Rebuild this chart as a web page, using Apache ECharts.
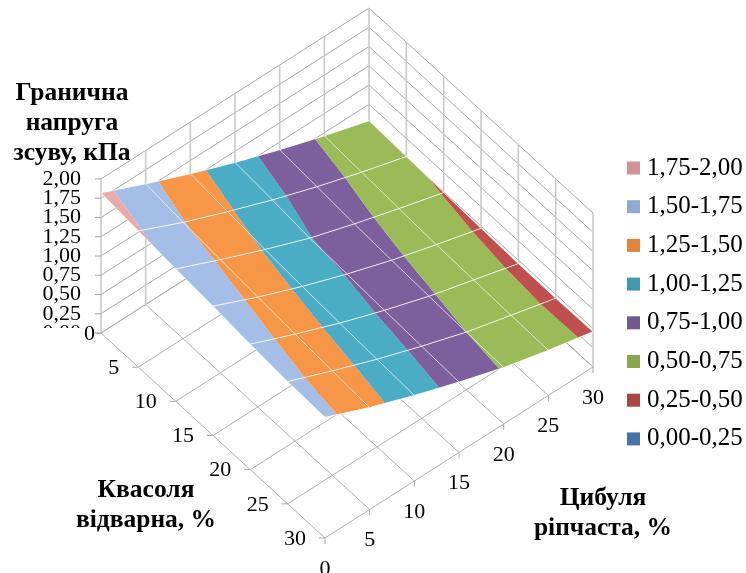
<!DOCTYPE html>
<html>
<head>
<meta charset="utf-8">
<style>html,body{margin:0;padding:0;background:#fff}#chart{width:746px;height:573px}</style>
<script src="https://cdn.jsdelivr.net/npm/echarts@6/dist/echarts.min.js"></script>
</head>
<body>
<div id="chart"></div>
<script>
// Shear stress limit over the two recipe components, in %.
const kvasolya = [0, 5, 10, 15, 20, 25, 30];
const cybulya = [0, 5, 10, 15, 20, 25, 30];
const stressTicks = [0, 0.25, 0.5, 0.75, 1, 1.25, 1.5, 1.75, 2];
const stressTickLabels = ['0,00', '0,25', '0,50', '0,75', '1,00', '1,25', '1,50', '1,75', '2,00'];

// One row per kvasolya level, one value per cybulya level.
const stressAtK0 = [1.82, 1.568, 1.327, 1.105, 0.90, 0.71, 0.536];
const stressAtK5 = [1.77, 1.51, 1.279, 1.062, 0.863, 0.682, 0.515];
const stressAtK10 = [1.72, 1.47, 1.232, 1.009, 0.824, 0.653, 0.49];
const stressAtK15 = [1.68, 1.427, 1.196, 0.987, 0.796, 0.628, 0.47];
const stressAtK20 = [1.63, 1.39, 1.163, 0.959, 0.772, 0.614, 0.455];
const stressAtK25 = [1.588, 1.357, 1.138, 0.937, 0.75, 0.598, 0.45];
const stressAtK30 = [1.567, 1.324, 1.111, 0.914, 0.733, 0.587, 0.458];
const stress = [stressAtK0, stressAtK5, stressAtK10, stressAtK15, stressAtK20, stressAtK25, stressAtK30];

const bandNames = ['1,75-2,00', '1,50-1,75', '1,25-1,50', '1,00-1,25', '0,75-1,00', '0,50-0,75', '0,25-0,50', '0,00-0,25'];
const bandLow = [1.75, 1.5, 1.25, 1, 0.75, 0.5, 0.25, 0];
const bandHigh = [2, 1.75, 1.5, 1.25, 1, 0.75, 0.5, 0.25];
const bandFill = ['#EBA9A8', '#A5BEE8', '#F79646', '#4BACC6', '#7E5F9E', '#9BBB59', '#C0504D', '#4F81BD'];
const bandSwatch = ['#D19392', '#94A9D2', '#E0853B', '#4198AF', '#71588F', '#89A54E', '#AA4643', '#4572A7'];

const FONT = '"Liberation Serif","Times New Roman",serif';

// Oblique projection of (kvasolya, cybulya, stress) onto the plot plane.
const ORIGIN = [101, 333];
const K_STEP = [224 / 30, 205 / 30];
const C_STEP = [268 / 30, -171 / 30];
const Z_STEP = 77;
function project(k, c, z) {
  return [
    ORIGIN[0] + k * K_STEP[0] + c * C_STEP[0],
    ORIGIN[1] + k * K_STEP[1] + c * C_STEP[1] - z * Z_STEP
  ];
}

const K_MAX = kvasolya[kvasolya.length - 1];
const C_MAX = cybulya[cybulya.length - 1];
const Z_MAX = stressTicks[stressTicks.length - 1];

// Frame segments as pairs of 3D points.
const wallRules = [];
const wallPosts = [];
const floorRules = [];
stressTicks.forEach(z => {
  wallRules.push([[0, 0, z], [0, C_MAX, z]]);
  wallRules.push([[0, C_MAX, z], [K_MAX, C_MAX, z]]);
});
cybulya.forEach(c => {
  wallPosts.push([[0, c, 0], [0, c, Z_MAX]]);
  floorRules.push([[0, c, 0], [K_MAX, c, 0]]);
});
kvasolya.forEach(k => {
  if (k > 0) wallPosts.push([[k, C_MAX, 0], [k, C_MAX, Z_MAX]]);
  floorRules.push([[k, 0, 0], [k, C_MAX, 0]]);
});

function segmentSeries(name, segments, color, width) {
  return {
    type: 'custom', name, coordinateSystem: 'cartesian2d', silent: true, clip: false, z: 1,
    data: segments.map((s, i) => [i]),
    renderItem(params, api) {
      const s = segments[api.value(0)];
      const a = api.coord(project.apply(null, s[0]));
      const b = api.coord(project.apply(null, s[1]));
      return { type: 'line', shape: { x1: a[0], y1: a[1], x2: b[0], y2: b[1] }, style: { stroke: color, lineWidth: width, fill: null } };
    }
  };
}

// Short outward tick marks.
const TICK = 6;
const tickMarks = [];
stressTicks.forEach(z => tickMarks.push({ at: [0, 0, z], dx: -TICK, dy: 0 }));
kvasolya.forEach(k => tickMarks.push({ at: [k, 0, 0], dx: -TICK, dy: 0 }));
cybulya.forEach(c => tickMarks.push({ at: [K_MAX, c, 0], dx: 0, dy: TICK }));

// Keep the part of a cell polygon on one side of a stress level.
function clipAtLevel(poly, level, keepAbove) {
  const out = [];
  const inside = p => keepAbove ? p[2] >= level : p[2] <= level;
  for (let i = 0; i < poly.length; i++) {
    const a = poly[i], b = poly[(i + 1) % poly.length];
    if (inside(a)) out.push(a);
    if (inside(a) !== inside(b)) {
      const t = (level - a[2]) / (b[2] - a[2]);
      out.push([a[0] + t * (b[0] - a[0]), a[1] + t * (b[1] - a[1]), level]);
    }
  }
  return out;
}

const cells = [];
for (let i = 0; i < kvasolya.length - 1; i++) {
  for (let j = 0; j < cybulya.length - 1; j++) cells.push([i, j]);
}

const bandSeries = bandNames.map((name, b) => ({
  type: 'custom', name, coordinateSystem: 'cartesian2d', silent: true, clip: false, z: 3,
  itemStyle: { color: bandSwatch[b] },
  data: cells,
  renderItem(params, api) {
    const i = api.value(0), j = api.value(1);
    const corner = (n, m) => [kvasolya[n], cybulya[m], stress[n][m]];
    let poly = [corner(i, j), corner(i + 1, j), corner(i + 1, j + 1), corner(i, j + 1)];
    poly = clipAtLevel(poly, bandLow[b], true);
    if (poly.length) poly = clipAtLevel(poly, bandHigh[b], false);
    if (poly.length < 3) return null;
    return {
      type: 'polygon',
      shape: { points: poly.map(p => api.coord(project(p[0], p[1], p[2]))) },
      style: { fill: bandFill[b], stroke: null }
    };
  }
}));

// White mesh lines lying on the surface; the kvasolya rows read stronger.
const meshLines = [];
kvasolya.forEach((k, i) => meshLines.push({ alpha: 0.82, pts: cybulya.map((c, j) => [k, c, stress[i][j]]) }));
cybulya.forEach((c, j) => meshLines.push({ alpha: 0.55, pts: kvasolya.map((k, i) => [k, c, stress[i][j]]) }));

const meshSeries = {
  type: 'custom', name: 'mesh', coordinateSystem: 'cartesian2d', silent: true, clip: false, z: 4,
  data: meshLines.map((l, i) => [i]),
  renderItem(params, api) {
    const line = meshLines[api.value(0)];
    return {
      type: 'polyline',
      shape: { points: line.pts.map(p => api.coord(project(p[0], p[1], p[2]))) },
      style: { stroke: 'rgba(255,255,255,' + line.alpha + ')', lineWidth: 1, fill: null }
    };
  }
};

const tickSeries = {
  type: 'custom', name: 'ticks', coordinateSystem: 'cartesian2d', silent: true, clip: false, z: 2,
  data: tickMarks.map((t, i) => [i]),
  renderItem(params, api) {
    const t = tickMarks[api.value(0)];
    const a = api.coord(project(t.at[0], t.at[1], t.at[2]));
    return { type: 'line', shape: { x1: a[0], y1: a[1], x2: a[0] + t.dx, y2: a[1] + t.dy }, style: { stroke: '#A6A6A6', lineWidth: 1, fill: null } };
  }
};

// Tick labels sit at fixed offsets from their axis points.
const tickText = [];
stressTicks.forEach((z, i) => tickText.push({ text: stressTickLabels[i], at: [0, 0, z], dx: -20, dy: 0, align: 'right', cut: z === 0 ? -7 : null }));
kvasolya.forEach(k => tickText.push({ text: String(k), at: [k, 0, 0], dx: k === 0 ? -6 : -19, dy: 1, align: 'right' }));
cybulya.forEach(c => tickText.push({ text: String(c), at: [K_MAX, c, 0], dx: 0, dy: 31, align: 'center' }));

const labelSeries = {
  type: 'custom', name: 'labels', coordinateSystem: 'cartesian2d', silent: true, clip: false, z: 5,
  data: tickText.map((t, i) => [i]),
  renderItem(params, api) {
    const t = tickText[api.value(0)];
    const a = api.coord(project(t.at[0], t.at[1], t.at[2]));
    const x = a[0] + t.dx, y = a[1] + t.dy;
    const el = {
      type: 'text',
      style: { x, y, text: t.text, align: t.align, verticalAlign: 'middle', fontFamily: FONT, fontSize: 22, fill: '#000' }
    };
    // The lowest stress label only shows its upper edge under the 0,25 row.
    if (t.cut !== null && t.cut !== undefined) {
      el.clipPath = { type: 'rect', shape: { x: x - 60, y: y - 30, width: 70, height: 30 + t.cut + 2 } };
    }
    return el;
  }
};

const axisTitleStyle = { fontFamily: FONT, fontWeight: 'bold', fontSize: 25.5, lineHeight: 30, color: '#000' };

const chart = echarts.init(document.getElementById('chart'), null, { renderer: 'canvas' });
chart.setOption({
  animation: false,
  backgroundColor: '#fff',
  grid: { left: 0, right: 0, top: 0, bottom: 0 },
  xAxis: { type: 'value', min: 0, max: 746, show: false },
  yAxis: { type: 'value', min: 0, max: 573, inverse: true, show: false },
  title: [
    { text: 'Гранична\nнапруга\nзсуву, кПа', left: 72, top: 78, textAlign: 'center', padding: 0, textStyle: axisTitleStyle },
    { text: 'Квасоля\nвідварна, %', left: 146, top: 475, textAlign: 'center', padding: 0, textStyle: axisTitleStyle },
    { text: 'Цибуля\nріпчаста, %', left: 603, top: 483, textAlign: 'center', padding: 0, textStyle: axisTitleStyle }
  ],
  legend: {
    orient: 'vertical', left: 627, top: 155.5, padding: 0,
    itemWidth: 13, itemHeight: 13, itemGap: 13.7, icon: 'rect', selectedMode: false,
    data: bandNames,
    textStyle: { fontFamily: FONT, fontSize: 25, lineHeight: 24, color: '#000', padding: [0, 0, 0, 2] }
  },
  series: [
    segmentSeries('wall rules', wallRules, '#ABABAB', 1),
    segmentSeries('floor rules', floorRules, '#B2B2B2', 1),
    segmentSeries('wall posts', wallPosts, '#C9C9C9', 1.6),
    tickSeries
  ].concat(bandSeries, [meshSeries, labelSeries])
});
</script>
</body>
</html>
